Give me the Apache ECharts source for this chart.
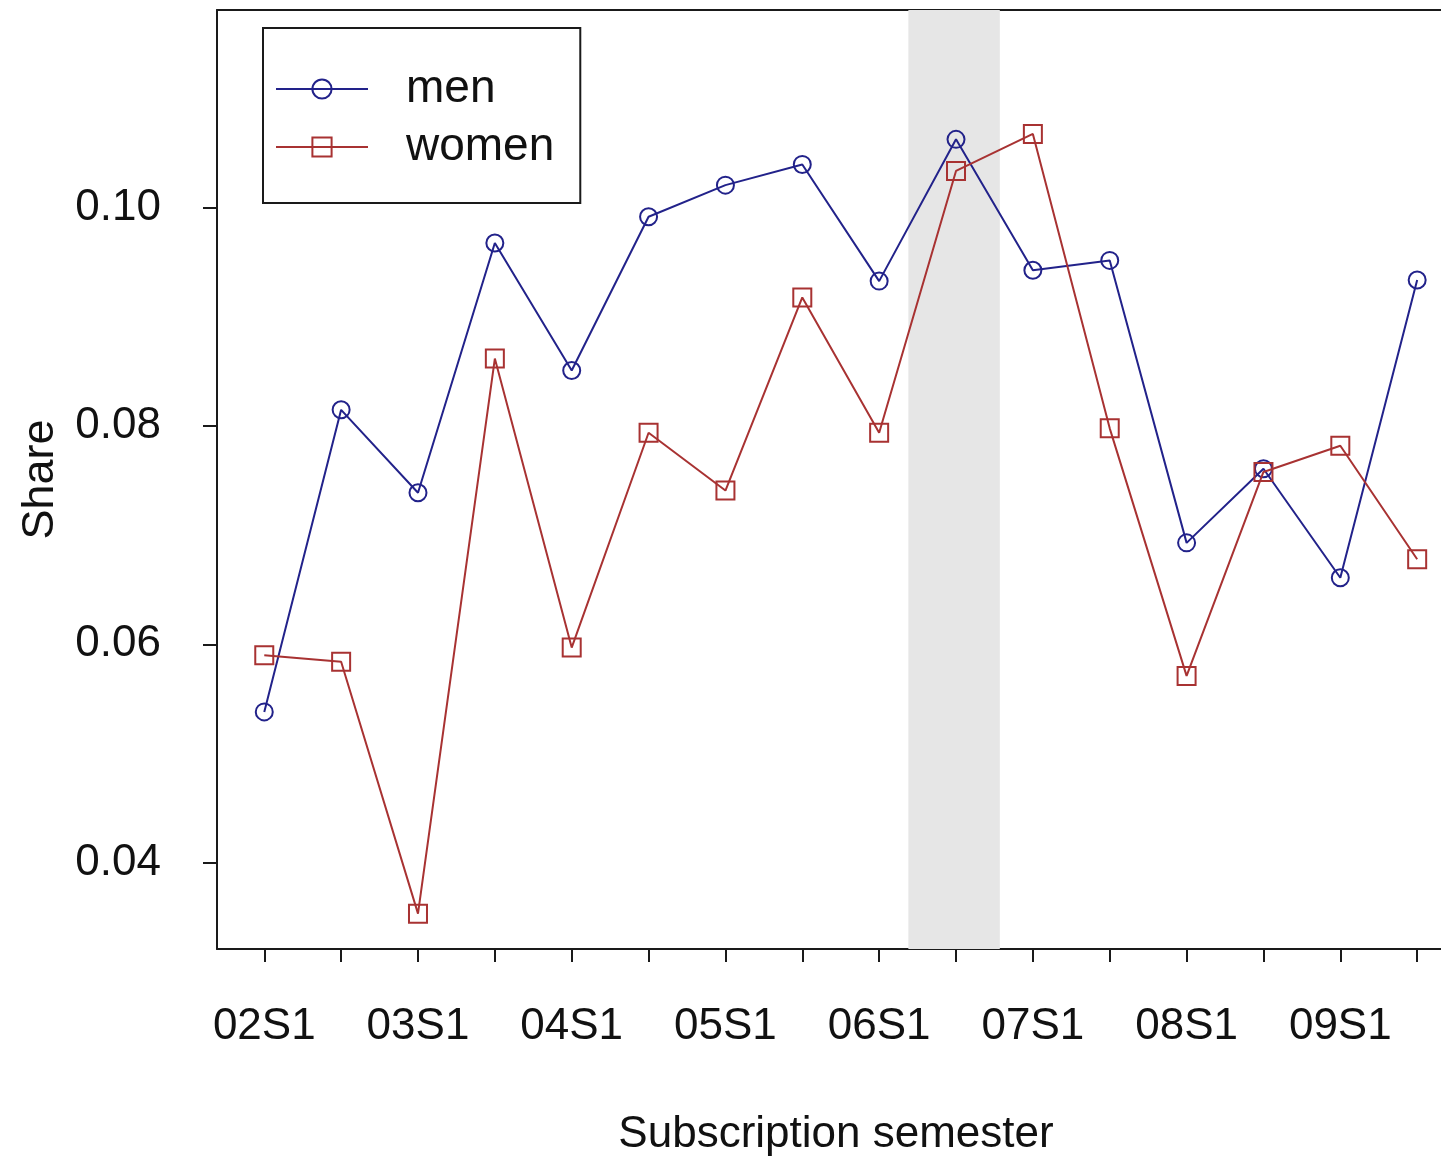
<!DOCTYPE html>
<html>
<head>
<meta charset="utf-8">
<title>Share by subscription semester</title>
<script src="https://cdn.jsdelivr.net/npm/echarts@6/dist/echarts.min.js"></script>
<style>
  html, body { margin: 0; padding: 0; background: #ffffff; }
  #chart { width: 1441px; height: 1162px; }
</style>
</head>
<body>
<div id="chart"></div>
<script>
// Subscription semesters (two per year)
const semesters = [
  '02S1', '02S2', '03S1', '03S2', '04S1', '04S2', '05S1', '05S2',
  '06S1', '06S2', '07S1', '07S2', '08S1', '08S2', '09S1', '09S2'
];

// Share per semester
const menShare = [
  0.0538, 0.0815, 0.0739, 0.0968, 0.0851, 0.0992, 0.1021, 0.1040,
  0.0933, 0.1063, 0.0943, 0.0952, 0.0693, 0.0761, 0.0661, 0.0934
];
const womenShare = [
  0.0590, 0.0584, 0.0353, 0.0862, 0.0597, 0.0794, 0.0741, 0.0918,
  0.0794, 0.1034, 0.1068, 0.0798, 0.0571, 0.0758, 0.0782, 0.0678
];

// Y axis tick labels
const shareTicks = [0.04, 0.06, 0.08, 0.10];

// Highlighted period around 06S2 (in semester index units)
const highlightSpan = [9.38, 10.57];

const FONT = '"Liberation Sans", Arial, Helvetica, sans-serif';
const INK = '#111111';
const FRAME = '#1a1a1a';
const MEN_COLOR = '#22228a';
const WOMEN_COLOR = '#a83232';

const semesterIndex = semesters.map((_, i) => i + 1);
const labelIndex = semesterIndex.filter(i => i % 2 === 1);
const toPoints = values => values.map((v, i) => [i + 1, v]);

const X_MIN = 0.385, X_MAX = 16.31;

const chart = echarts.init(document.getElementById('chart'), null, { renderer: 'canvas' });

chart.setOption({
  animation: false,
  backgroundColor: '#ffffff',
  textStyle: { fontFamily: FONT, color: INK },
  // the plot box is open on the right: it continues past the page edge
  grid: { left: 217, right: 0, top: 10, bottom: 212, show: false },
  legend: {
    orient: 'vertical',
    left: 263, top: 28,
    padding: [36, 26, 31, 12],
    itemGap: 8,
    itemWidth: 92,
    itemHeight: 24,
    borderColor: FRAME,
    borderWidth: 2,
    backgroundColor: '#ffffff',
    textStyle: {
      fontFamily: FONT, fontSize: 46, color: INK,
      lineHeight: 46, padding: [4, 0, 0, 33]
    },
    data: ['men', 'women']
  },
  xAxis: [
    {
      type: 'value',
      position: 'bottom',
      min: X_MIN, max: X_MAX,
      name: 'Subscription semester',
      nameLocation: 'middle',
      nameGap: 164,
      nameTextStyle: { fontFamily: FONT, fontSize: 44, color: INK, padding: [0, 0, 0, 14] },
      splitLine: { show: false },
      axisLine: { show: true, onZero: false, lineStyle: { color: FRAME, width: 2 } },
      axisTick: {
        show: true, inside: false, length: 13,
        customValues: semesterIndex,
        lineStyle: { color: FRAME, width: 2 }
      },
      axisLabel: {
        show: true, margin: 56,
        fontFamily: FONT, fontSize: 44, color: INK,
        customValues: labelIndex,
        formatter: v => semesters[Math.round(v) - 1]
      }
    },
    {
      // top edge of the plot box
      type: 'value',
      position: 'top',
      min: X_MIN, max: X_MAX,
      splitLine: { show: false },
      axisLine: { show: true, onZero: false, lineStyle: { color: FRAME, width: 2 } },
      axisTick: { show: false },
      axisLabel: { show: false }
    }
  ],
  yAxis: {
    type: 'value',
    min: 0.03206, max: 0.11816,
    name: 'Share',
    nameLocation: 'middle',
    nameGap: 154,
    nameRotate: 90,
    nameTextStyle: { fontFamily: FONT, fontSize: 45, color: INK },
    splitLine: { show: false },
    axisLine: { show: true, onZero: false, lineStyle: { color: FRAME, width: 2 } },
    axisTick: {
      show: true, inside: false, length: 14,
      customValues: shareTicks,
      lineStyle: { color: FRAME, width: 2 }
    },
    axisLabel: {
      show: true, margin: 56,
      fontFamily: FONT, fontSize: 44, color: INK,
      customValues: shareTicks,
      formatter: v => v.toFixed(2)
    }
  },
  series: [
    {
      name: 'men',
      type: 'line',
      xAxisIndex: 0,
      data: toPoints(menShare),
      symbol: 'circle',
      symbolSize: 17,
      z: 3,
      lineStyle: { color: MEN_COLOR, width: 2 },
      itemStyle: { color: 'rgba(255,255,255,0)', borderColor: MEN_COLOR, borderWidth: 2 },
      emphasis: { disabled: true },
      markArea: {
        silent: true,
        z: 1,
        itemStyle: { color: '#e6e6e6' },
        data: [[{ xAxis: highlightSpan[0] }, { xAxis: highlightSpan[1] }]]
      }
    },
    {
      name: 'women',
      type: 'line',
      xAxisIndex: 0,
      data: toPoints(womenShare),
      symbol: 'rect',
      symbolSize: 18,
      z: 4,
      lineStyle: { color: WOMEN_COLOR, width: 2 },
      itemStyle: { color: 'rgba(255,255,255,0)', borderColor: WOMEN_COLOR, borderWidth: 2 },
      emphasis: { disabled: true }
    }
  ]
});
</script>
</body>
</html>
